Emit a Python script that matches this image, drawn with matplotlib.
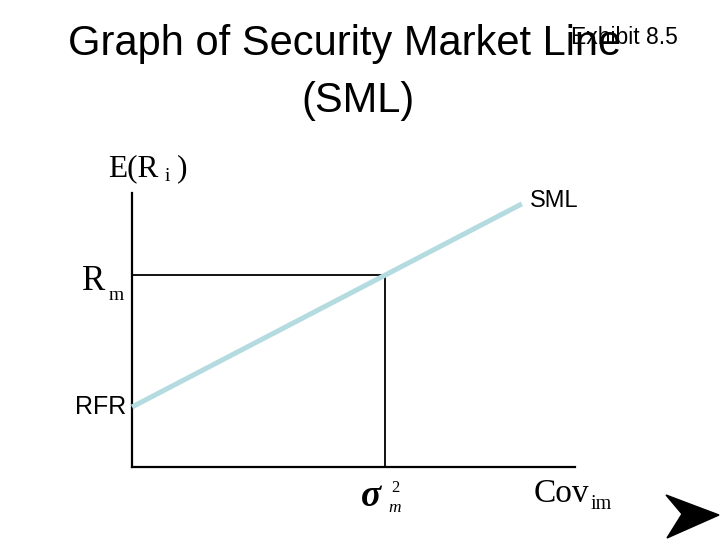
import matplotlib
matplotlib.use("Agg")
import matplotlib.pyplot as plt
from matplotlib.patches import Polygon

# Data (axes units: x = covariance, y = expected return)
rfr = 0.219
market_x = 0.571
market_y = 0.700
sml_x = [0.0, 0.880]
sml_y = [rfr, rfr + (market_y - rfr) / market_x * 0.880]
arrow_shape = [(666, 495), (719, 515), (667, 538), (682, 514)]  # pixel coords of nav arrow

fig = plt.figure(figsize=(7.2, 5.4), dpi=100)
fig.patch.set_facecolor("white")

ax = fig.add_axes([132/720, (540-467)/540, 443/720, 274/540])
ax.set_xlim(0, 1)
ax.set_ylim(0, 1)
for s in ["top", "right"]:
    ax.spines[s].set_visible(False)
for s in ["left", "bottom"]:
    ax.spines[s].set_linewidth(1.6)
    ax.spines[s].set_color("black")
ax.set_xticks([])
ax.set_yticks([])
ax.patch.set_alpha(0)

# market guide lines
ax.plot([0, market_x], [market_y, market_y], color="black", lw=1.3, clip_on=False)
ax.plot([market_x, market_x], [0, market_y], color="black", lw=1.3, clip_on=False)
# SML
ax.plot(sml_x, sml_y, color="#b3dbe0", lw=3.6, solid_capstyle="butt", clip_on=False, zorder=3)

sans = "Liberation Sans"
serif = "Liberation Serif"

def px(x, y):
    return x / 720, 1 - y / 540

# Title
fig.text(*px(345, 44), "Graph of Security Market Line", ha="center", va="center",
         fontsize=30, family=sans)
fig.text(*px(358, 101), "(SML)", ha="center", va="center", fontsize=30, family=sans)
fig.text(*px(624, 38), "Exhibit 8.5", ha="center", va="center", fontsize=16.5, family=sans)

# Labels
ax.text(sml_x[1] + 0.018, sml_y[1] + 0.012, "SML", ha="left", va="center", fontsize=17, family=sans)
ax.text(-0.012, rfr, "RFR", ha="right", va="center", fontsize=18, family=sans)

# E(R i)
fig.text(*px(108, 176), "E(R", ha="left", va="baseline", fontsize=22.5, family=serif)
fig.text(*px(165, 181), "i", ha="left", va="baseline", fontsize=14, family=serif)
fig.text(*px(177, 176), ")", ha="left", va="baseline", fontsize=22.5, family=serif)

# R m
fig.text(*px(82, 290), "R", ha="left", va="baseline", fontsize=25, family=serif)
fig.text(*px(109, 300), "m", ha="left", va="baseline", fontsize=14, family=serif)

# sigma_m^2
fig.text(*px(361, 506), "σ", ha="left", va="baseline", fontsize=27, family=serif,
         style="italic", weight="bold")
fig.text(*px(391, 492), "2", ha="left", va="baseline", fontsize=12, family=serif)
fig.text(*px(388, 512), "m", ha="left", va="baseline", fontsize=12.5, family=serif, style="italic")

# Cov im
fig.text(*px(534, 502), "Cov", ha="left", va="baseline", fontsize=24, family=serif)
fig.text(*px(591, 509), "im", ha="left", va="baseline", fontsize=14.5, family=serif)

# navigation arrow
poly = Polygon([px(x, y) for x, y in arrow_shape], closed=True,
               facecolor="black", edgecolor="black", transform=fig.transFigure)
fig.patches.append(poly)

fig.savefig("out.png", dpi=100)
